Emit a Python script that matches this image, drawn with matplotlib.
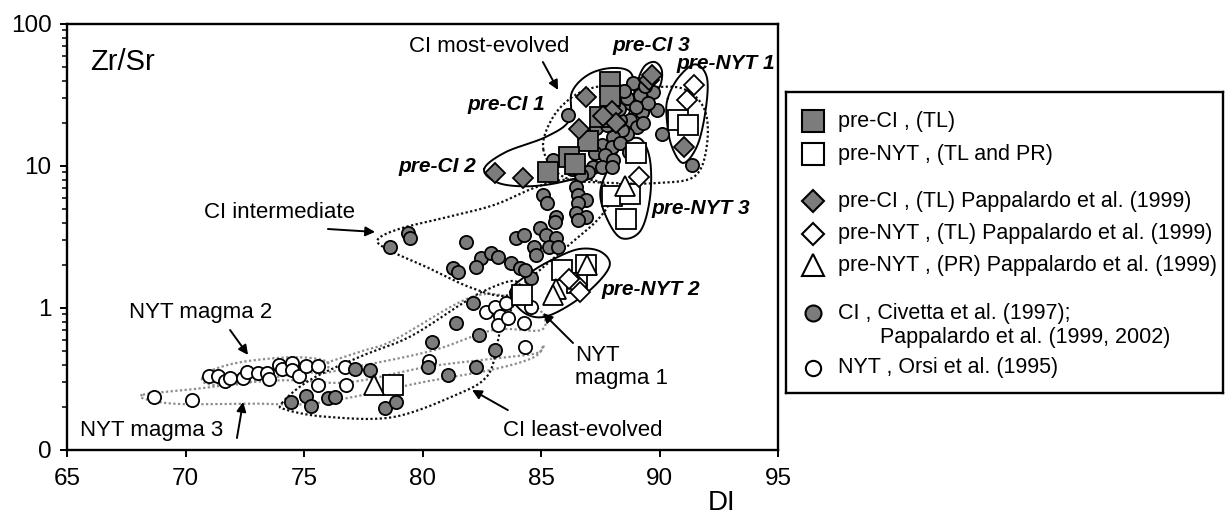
import numpy as np
import matplotlib
matplotlib.use('Agg')
import matplotlib.pyplot as plt
from matplotlib.ticker import LogLocator, NullFormatter

plt.rcParams['font.family'] = ['Liberation Sans', 'DejaVu Sans']

# ---------------- data (DI, Zr/Sr) ----------------
preCI_TL_x = [87.9, 87.9, 87.5, 87.0, 86.2, 86.45, 85.3]
preCI_TL_y = [39.0, 31.0, 22.0, 15.0, 11.5, 10.4, 9.0]

preNYT_TLPR_x = [90.8, 91.2, 89.0, 88.0, 88.6, 88.75, 84.2, 85.9, 86.9, 86.5, 78.75]
preNYT_TLPR_y = [21.0, 19.5, 12.3, 6.1, 4.2, 6.4, 1.23, 1.85, 2.0, 1.5, 0.287]

preCI_Papp_x = [86.9, 89.55, 89.7, 88.0, 88.15, 86.6, 87.6, 91.05, 83.05, 84.25]
preCI_Papp_y = [30.6, 40.5, 44.0, 24.5, 20.2, 18.2, 22.5, 13.7, 8.9, 8.2]

preNYT_TLPapp_x = [91.45, 91.15, 89.15, 86.5, 86.65, 86.2]
preNYT_TLPapp_y = [37.0, 29.0, 8.4, 1.45, 1.3, 1.6]

preNYT_PRPapp_x = [88.55, 85.65, 85.5, 86.95, 77.95]
preNYT_PRPapp_y = [7.2, 1.36, 1.23, 2.0, 0.287]

CI_x = [86.15, 88.76, 88.9, 89.18, 89.74, 89.88, 89.25, 88.76, 89.04, 89.32,
        88.62, 88.4, 88.05, 87.56, 87.98, 88.33, 87.28, 87.7, 88.05, 87.21,
        87.56, 87.98, 87.0, 90.09, 91.36, 85.5, 88.33, 88.62, 88.5, 89.5,
        87.3, 88.7, 86.7, 86.3, 89.0, 88.3, 89.4, 87.8,
        85.1, 85.24, 85.64, 85.57, 86.48, 86.55, 86.9, 86.55, 86.48, 86.9,
        86.55, 78.63, 79.4, 79.47, 81.84, 83.95, 84.3, 84.94, 85.22, 85.64,
        84.72, 85.35, 85.7, 84.8, 83.74, 84.1, 84.58, 82.47, 82.89, 83.17,
        81.28, 81.49, 82.26, 84.34, 82.12, 81.42, 82.4, 80.41, 83.04, 80.23,
        81.07, 82.24,
        74.47, 75.07, 75.31, 76.0, 76.29, 77.14, 77.77, 78.4, 78.87]
CI_y = [22.9, 27.6, 38.2, 31.6, 33.4, 24.8, 24.1, 21.1, 18.9, 20.0,
        16.9, 17.9, 16.1, 14.0, 13.7, 14.5, 12.3, 11.9, 11.0, 9.9,
        9.9, 9.9, 9.1, 16.9, 10.2, 11.0, 21.1, 29.9, 34.0, 28.0,
        18.5, 12.5, 8.6, 9.5, 26.0, 25.0, 36.5, 19.5,
        6.25, 5.46, 4.4, 4.05, 7.15, 6.25, 5.76, 5.46, 4.64, 4.4,
        4.17, 2.7, 3.36, 3.1, 2.93, 3.1, 3.27, 3.64, 3.27, 3.1,
        2.7, 2.7, 2.7, 2.36, 2.06, 1.9, 1.62, 2.24, 2.43, 2.3,
        1.9, 1.8, 1.95, 1.85, 1.08, 0.78, 0.645, 0.579, 0.506, 0.386,
        0.337, 0.382,
        0.219, 0.241, 0.204, 0.231, 0.237, 0.37, 0.366, 0.197, 0.219]

NYT_x = [68.67, 70.26, 71.0, 71.38, 71.67, 71.88, 72.41, 72.6, 73.07, 73.42,
         73.53, 73.95, 74.09, 74.51, 74.51, 74.79, 75.07, 75.6, 75.6, 76.72,
         76.79, 82.69, 83.04, 83.25, 83.18, 83.6, 83.53, 84.3, 84.34, 80.27,
         84.58]
NYT_y = [0.237, 0.225, 0.332, 0.332, 0.308, 0.32, 0.32, 0.352, 0.347, 0.347,
         0.315, 0.397, 0.372, 0.408, 0.366, 0.332, 0.39, 0.39, 0.287, 0.382,
         0.287, 0.94, 1.01, 0.88, 0.76, 0.846, 1.08, 0.79, 0.534, 0.426,
         1.02]

# ---------------- field outlines (DI, Zr/Sr) ----------------
preCI12_x = [82.6, 83.5, 85.2, 86.2, 86.3, 87.0, 88.0, 88.8, 88.9, 88.3, 87.4, 86.0, 84.5, 83.2]
preCI12_y = [9.5, 12.5, 16.0, 21.0, 33.0, 44.0, 49.0, 45.0, 30.0, 16.0, 9.5, 7.8, 7.2, 7.6]
preCI3_x = [89.1, 89.35, 89.8, 90.1, 90.0, 89.5]
preCI3_y = [38.0, 50.0, 54.0, 47.0, 36.0, 31.0]
preNYT1_x = [90.35, 90.8, 91.5, 92.0, 91.95, 91.6, 91.0, 90.5, 90.3]
preNYT1_y = [30.0, 42.0, 52.0, 42.0, 25.0, 14.0, 10.5, 14.0, 22.0]
preNYT3_x = [88.5, 89.2, 89.6, 89.6, 89.2, 88.4, 87.8, 87.5, 87.9]
preNYT3_y = [14.5, 15.5, 11.0, 6.0, 3.5, 3.1, 4.2, 6.5, 10.0]
preNYT2_x = [83.7, 84.5, 85.5, 86.6, 87.5, 87.9, 87.2, 86.0, 85.0, 84.2]
preNYT2_y = [1.3, 1.75, 2.2, 2.6, 2.5, 2.0, 1.4, 1.0, 0.86, 0.95]
CImost_x = [85.1, 85.5, 86.5, 87.8, 89.5, 91.0, 91.9, 92.0, 91.5, 90.0, 88.0, 86.0]
CImost_y = [13.0, 22.0, 32.0, 37.0, 36.0, 35.0, 25.0, 14.0, 8.5, 7.6, 7.6, 8.3]
CIint_x = [78.1, 79.0, 81.0, 83.0, 84.7, 86.0, 87.5, 87.9, 87.4, 86.2, 84.5, 83.5, 82.0, 80.3, 78.7]
CIint_y = [3.0, 3.6, 4.35, 5.3, 7.0, 8.0, 7.7, 5.8, 4.2, 2.8, 1.6, 1.22, 1.4, 1.9, 2.5]
CIleast_x = [74.06, 75.25, 77.36, 79.47, 81.58, 82.6, 83.8, 84.1, 83.3, 83.1, 82.7, 81.6, 78.8, 76.0, 74.3]
CIleast_y = [0.213, 0.311, 0.454, 0.628, 1.05, 1.32, 1.55, 1.3, 0.70, 0.48, 0.327, 0.252, 0.171, 0.171, 0.191]
NYT1_x = [75.4, 77.5, 78.8, 82.1, 84.0, 85.0, 85.0, 83.0, 80.4, 77.0, 75.6]
NYT1_y = [0.38, 0.5, 0.595, 1.2, 1.15, 0.95, 0.7, 0.7, 0.5, 0.38, 0.345]
NYT2_x = [70.7, 71.2, 72.5, 74.5, 75.8, 76.0, 75.0, 73.5, 72.2, 71.0]
NYT2_y = [0.32, 0.37, 0.42, 0.45, 0.43, 0.38, 0.35, 0.32, 0.29, 0.29]
NYT3_x = [68.2, 70.5, 72.7, 74.5, 76.9, 80.2, 83.0, 84.8, 85.1, 84.7, 83.0, 80.0, 77.0, 75.0, 73.1, 70.0, 68.6]
NYT3_y = [0.245, 0.27, 0.30, 0.31, 0.30, 0.385, 0.44, 0.48, 0.55, 0.45, 0.37, 0.30, 0.235, 0.21, 0.212, 0.21, 0.222]

xticks = [65, 70, 75, 80, 85, 90, 95]
yticks = [0.1, 1, 10, 100]
yticklabels = ['0', '1', '10', '100']

GREY = '#7c7c7c'


def closed_curve(xs, ys, n=40):
    u = (np.asarray(xs, float) - 65) / 30 * 711
    v = np.log10(np.asarray(ys, float)) * 142
    P = np.column_stack([u, v])
    N = len(P)
    t = np.linspace(0, 1, n, endpoint=False)[:, None]
    segs = []
    for i in range(N):
        p0, p1, p2, p3 = P[(i - 1) % N], P[i], P[(i + 1) % N], P[(i + 2) % N]
        seg = 0.5 * ((2 * p1) + (-p0 + p2) * t + (2 * p0 - 5 * p1 + 4 * p2 - p3) * t ** 2
                     + (-p0 + 3 * p1 - 3 * p2 + p3) * t ** 3)
        segs.append(seg)
    segs.append(P[:1])
    Q = np.vstack(segs)
    return 65 + Q[:, 0] / 711 * 30, 10 ** (Q[:, 1] / 142)


fig = plt.figure(figsize=(12.26, 5.19), dpi=100)
ax = fig.add_axes([67 / 1226, 69 / 519, 711 / 1226, 426 / 519])
ax.set_yscale('log')
ax.set_xlim(65, 95)
ax.set_ylim(0.1, 100)

# outlines
dots = (0, (1, 1.1))
for xs, ys, col, ls, lw in [
        (NYT3_x, NYT3_y, '#8c8c8c', dots, 1.6),
        (NYT2_x, NYT2_y, '#8c8c8c', dots, 1.6),
        (NYT1_x, NYT1_y, '#8c8c8c', dots, 1.6),
        (CIleast_x, CIleast_y, '#111111', dots, 1.6),
        (CIint_x, CIint_y, '#111111', dots, 1.6),
        (CImost_x, CImost_y, '#111111', dots, 1.6),
        (preCI12_x, preCI12_y, 'k', '-', 1.4),
        (preCI3_x, preCI3_y, 'k', '-', 1.4),
        (preNYT1_x, preNYT1_y, 'k', '-', 1.4),
        (preNYT3_x, preNYT3_y, 'k', '-', 1.4),
        (preNYT2_x, preNYT2_y, 'k', '-', 1.4)]:
    cx, cy = closed_curve(xs, ys)
    ax.plot(cx, cy, color=col, linestyle=ls, lw=lw, zorder=1)

mk = dict(linestyle='none', markeredgecolor='k', markeredgewidth=1.3)
ax.plot(NYT_x, NYT_y, marker='o', markersize=9.5, markerfacecolor='white', zorder=2, **mk)
ax.plot(CI_x, CI_y, marker='o', markersize=9.5, markerfacecolor=GREY, zorder=3, **mk)
ax.plot(preCI_TL_x, preCI_TL_y, marker='s', markersize=14.5, markerfacecolor=GREY, zorder=4, **mk)
ax.plot(preNYT_TLPR_x, preNYT_TLPR_y, marker='s', markersize=14.5, markerfacecolor='white', zorder=4, **mk)
ax.plot(preCI_Papp_x, preCI_Papp_y, marker='D', markersize=10.4, markerfacecolor=GREY, zorder=5, **mk)
ax.plot(preNYT_TLPapp_x, preNYT_TLPapp_y, marker='D', markersize=10.4, markerfacecolor='white', zorder=5, **mk)
ax.plot(preNYT_PRPapp_x, preNYT_PRPapp_y, marker='^', markersize=14, markerfacecolor='white', zorder=6, **mk)

# axes styling
ax.set_xticks(xticks)
ax.set_xticklabels([str(v) for v in xticks])
ax.set_yticks(yticks)
ax.set_yticklabels(yticklabels)
ax.yaxis.set_minor_locator(LogLocator(base=10, subs=np.arange(2, 10)))
ax.yaxis.set_minor_formatter(NullFormatter())
ax.tick_params(which='both', direction='out', top=False, right=False, colors='k')
ax.tick_params(axis='x', which='major', length=5, width=1.4, labelsize=17.5, pad=8)
ax.tick_params(axis='y', which='major', length=5, width=1.4, labelsize=17.5, pad=6)
ax.tick_params(which='minor', length=3.5, width=1.1)
for s in ax.spines.values():
    s.set_linewidth(1.7)

# labels
fs = 16
ax.text(65.97, 54, 'Zr/Sr', fontsize=21, ha='left', va='center')
ax.text(0.92, -0.125, 'DI', transform=ax.transAxes, fontsize=20, ha='center', va='center')

ax.text(82.8, 69, 'CI most-evolved', fontsize=fs, ha='center', va='center')
ax.text(73.95, 4.67, 'CI intermediate', fontsize=fs, ha='center', va='center')
ax.text(70.65, 0.937, 'NYT magma 2', fontsize=fs, ha='center', va='center')
ax.text(68.59, 0.138, 'NYT magma 3', fontsize=fs, ha='center', va='center')
ax.text(86.43, 0.384, 'NYT\nmagma 1', fontsize=fs, ha='left', va='center', linespacing=1.15)
ax.text(86.77, 0.138, 'CI least-evolved', fontsize=fs, ha='center', va='center')

bi = dict(fontsize=15, fontweight='bold', fontstyle='italic', ha='center', va='center')
ax.text(89.64, 71.1, 'pre-CI 3', **bi)
ax.text(92.8, 53.1, 'pre-NYT 1', **bi)
ax.text(83.52, 26.9, 'pre-CI 1', **bi)
ax.text(80.61, 9.84, 'pre-CI 2', **bi)
ax.text(91.75, 5.06, 'pre-NYT 3', **bi)
ax.text(89.64, 1.34, 'pre-NYT 2', **bi)

ap = dict(arrowstyle='-|>', color='k', lw=1.4, mutation_scale=14, shrinkA=0, shrinkB=0)
for tail, head in [((85.08, 54), (85.72, 34.3)),
                   ((76.01, 3.6), (78.0, 3.43)),
                   ((71.88, 0.70), (72.64, 0.467)),
                   ((72.17, 0.1215), (72.43, 0.218)),
                   ((86.35, 0.567), (85.08, 0.922)),
                   ((83.6, 0.191), (82.09, 0.265))]:
    ax.annotate('', xy=head, xytext=tail, arrowprops=ap)

# ---------------- legend (drawn in its own box) ----------------
lax = fig.add_axes([786 / 1226, (519 - 393) / 519, 437 / 1226, 301 / 519])
lax.set_xlim(0, 437)
lax.set_ylim(301, 0)
lax.set_xticks([])
lax.set_yticks([])
for s in lax.spines.values():
    s.set_linewidth(1.7)

leg_rows = [
    (29, 's', 16, GREY, 'pre-CI , (TL)'),
    (62, 's', 16, 'white', 'pre-NYT , (TL and PR)'),
    (109, 'D', 11, GREY, 'pre-CI , (TL) Pappalardo et al. (1999)'),
    (142, 'D', 11, 'white', 'pre-NYT , (TL) Pappalardo et al. (1999)'),
    (173, '^', 16, 'white', 'pre-NYT , (PR) Pappalardo et al. (1999)'),
    (221, 'o', 11.5, GREY, 'CI , Civetta et al. (1997);'),
    (276, 'o', 11, 'white', 'NYT , Orsi et al. (1995)'),
]
for y, m, ms, fc, lab in leg_rows:
    lax.plot([27], [y], marker=m, markersize=ms, markerfacecolor=fc,
             markeredgecolor='k', markeredgewidth=1.5, linestyle='none', clip_on=False)
    lax.text(52, y, lab, fontsize=15.5, ha='left', va='center')
lax.text(94, 245, 'Pappalardo et al. (1999, 2002)', fontsize=15.5, ha='left', va='center')

fig.savefig('out.png', dpi=100)
